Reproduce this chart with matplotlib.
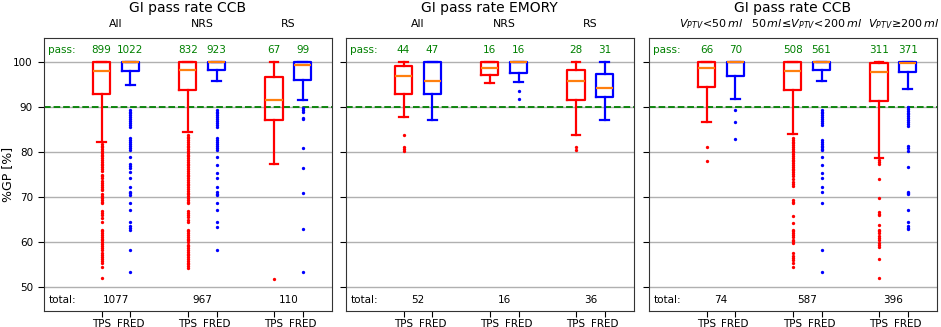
import matplotlib
matplotlib.use("Agg")
import matplotlib.pyplot as plt

# --- data ---
titles = ["GI pass rate CCB", "GI pass rate EMORY", "GI pass rate CCB"]
group_labels = [["All", "NRS", "RS"],
                ["All", "NRS", "RS"],
                [r"$V_{PTV}\!<\!50\,ml$", r"$50\,ml\!\leq\!V_{PTV}\!<\!200\,ml$", r"$V_{PTV}\!\geq\!200\,ml$"]]
tick_labels = ["TPS", "FRED"] * 3
pass_counts = [[899, 1022, 832, 923, 67, 99],
               [44, 47, 16, 16, 28, 31],
               [66, 70, 508, 561, 311, 371]]
totals = [[1077, 967, 110], [52, 16, 36], [74, 587, 396]]

# box statistics, order: TPS, FRED for each group
med = [[97.8, 100.0, 98.2, 100.0, 91.5, 99.3],
       [96.9, 95.6, 98.6, 99.8, 95.6, 94.1],
       [98.5, 100.0, 97.9, 100.0, 97.6, 99.7]]
q1 = [[92.8, 98.0, 93.7, 98.1, 87.0, 96.0],
      [92.9, 92.9, 97.1, 97.4, 91.4, 92.1],
      [94.4, 96.7, 93.7, 98.2, 91.3, 97.7]]
q3 = [[100, 100, 100, 100, 96.5, 100],
      [99.0, 99.9, 100, 100, 98.1, 97.3],
      [100, 100, 100, 100, 99.7, 100]]
whislo = [[82.2, 94.8, 84.3, 95.7, 77.4, 91.5],
          [87.8, 87.0, 95.3, 95.5, 83.8, 87.0],
          [86.7, 91.7, 83.9, 95.6, 78.7, 93.9]]
whishi = [[100] * 6, [100] * 6, [100] * 6]

fliers = [
    [
        [81.8, 81.4, 81.0, 80.6, 80.2, 79.8, 79.4, 79.0, 78.6, 78.2, 77.8, 77.4, 77.0, 76.6, 76.2, 75.8,
         75.0, 74.6, 74.2, 73.6, 73.1, 72.7, 72.3, 71.9, 71.5, 70.6, 70.2, 69.8, 69.4, 69.0, 68.7, 66.9,
         66.5, 66.0, 65.4, 64.5, 62.8, 62.4, 62.0, 61.6, 61.2, 60.8, 60.4, 60.0, 59.6, 59.2, 58.8, 58.4,
         57.6, 57.2, 56.8, 56.2, 55.8, 55.4, 54.5, 52.0],
        [89.3, 88.9, 88.5, 88.1, 87.7, 87.3, 86.9, 86.4, 86.0, 85.6, 83.1, 82.7, 82.3, 81.8, 81.4, 80.9,
         80.5, 78.8, 77.3, 76.9, 76.5, 75.6, 74.2, 72.2, 71.1, 70.8, 70.4, 68.6, 67.1, 64.6, 63.5, 63.1,
         62.8, 58.2, 53.4],
        [83.8, 83.4, 83.0, 82.6, 82.2, 81.8, 81.4, 81.0, 80.6, 80.2, 79.8, 79.4, 79.0, 78.6, 78.2, 77.8,
         77.4, 77.0, 76.6, 76.2, 75.8, 75.4, 75.0, 74.6, 74.2, 73.8, 73.4, 73.0, 72.6, 72.2, 71.8, 71.4,
         71.0, 70.6, 70.2, 69.8, 69.4, 69.0, 68.6, 66.9, 66.5, 66.0, 65.5, 65.0, 64.6, 62.8, 62.4, 62.0,
         61.6, 61.2, 60.8, 60.4, 60.0, 59.5, 59.1, 58.7, 58.3, 57.9, 57.5, 57.1, 56.7, 56.3, 55.9, 55.5,
         55.1, 54.7, 54.3],
        [89.3, 88.9, 88.5, 88.1, 87.7, 87.3, 86.9, 86.4, 86.0, 85.6, 83.0, 82.6, 82.2, 81.8, 81.4, 80.9,
         80.4, 78.8, 77.2, 75.4, 74.2, 72.2, 71.1, 70.7, 70.4, 68.6, 67.1, 64.6, 63.4, 58.2],
        [51.9],
        [89.7, 89.3, 88.9, 87.6, 87.2, 80.9, 76.5, 71.0, 63.0, 53.4],
    ],
    [
        [83.8, 81.0, 80.6, 80.3],
        [],
        [],
        [93.4, 91.8],
        [81.0, 80.5],
        [],
    ],
    [
        [81.1, 78.0],
        [89.3, 86.7, 82.8],
        [83.1, 82.7, 82.3, 81.9, 81.5, 81.1, 80.7, 80.3, 79.9, 79.5, 79.1, 78.7, 78.3, 77.9, 77.5, 77.1,
         76.7, 76.3, 75.9, 75.5, 75.1, 74.6, 73.9, 73.4, 72.9, 72.4, 69.4, 69.0, 68.7, 65.8, 64.3, 62.8,
         62.4, 62.0, 61.6, 61.2, 60.6, 60.2, 59.8, 57.6, 57.0, 56.5, 56.0, 55.4, 54.5],
        [89.3, 88.9, 88.5, 88.1, 87.7, 87.3, 86.9, 86.4, 86.0, 82.6, 82.2, 81.8, 81.4, 81.1, 80.7, 80.5,
         78.8, 77.2, 75.4, 74.2, 72.2, 71.1, 68.6, 58.2, 53.4],
        [78.1, 77.7, 77.3, 74.0, 69.8, 66.7, 66.3, 66.0, 63.9, 62.8, 62.4, 62.0, 61.5, 61.0, 60.6, 59.9,
         59.4, 58.9, 56.2, 52.0],
        [89.9, 89.5, 89.1, 88.7, 88.3, 87.9, 87.5, 87.0, 86.6, 86.2, 85.8, 81.2, 80.8, 80.3, 76.6, 71.1,
         70.8, 70.6, 67.1, 64.6, 63.5, 63.2, 63.0],
    ],
]

positions = [2, 3, 5, 6, 8, 9]
group_centers = [2.5, 5.5, 8.5]
label_x = [[2.5, 5.5, 8.5], [2.5, 5.5, 8.5], [2.18, 5.5, 8.88]]
colors = ["red", "blue"] * 3

fig = plt.figure(figsize=(9.41, 3.27), dpi=100)
lefts = [44, 346, 649]
W, H = 941, 327
fs = 7.5

for p in range(3):
    ax = fig.add_axes([lefts[p] / W, 1 - 311 / H, 287.5 / W, (311 - 38) / H])
    ax.set_xlim(0, 10)
    ax.set_ylim(44.8, 105.2)
    ax.set_yticks([50, 60, 70, 80, 90, 100])
    ax.yaxis.grid(True, color="#b0b0b0", lw=1)
    ax.set_axisbelow(True)
    ax.axhline(90, color="green", ls="--", lw=1.3, zorder=1)

    for i in range(6):
        st = [dict(med=med[p][i], q1=q1[p][i], q3=q3[p][i],
                   whislo=whislo[p][i], whishi=whishi[p][i], fliers=fliers[p][i])]
        c = colors[i]
        ax.bxp(st, positions=[positions[i]], widths=0.6, manage_ticks=False,
               boxprops=dict(color=c, lw=1.6),
               whiskerprops=dict(color=c, lw=1.6),
               capprops=dict(color=c, lw=1.6),
               medianprops=dict(color="#ff7f0e", lw=1.6),
               flierprops=dict(marker="o", markersize=2.4, markerfacecolor=c,
                               markeredgewidth=0, linestyle="none"))
        ax.text(positions[i], 102.6, str(pass_counts[p][i]), color="green",
                ha="center", va="center", fontsize=fs)

    ax.text(0.15, 102.6, "pass:", color="green", ha="left", va="center", fontsize=fs)
    ax.text(0.15, 47.3, "total:", ha="left", va="center", fontsize=fs)
    for g in range(3):
        ax.text(group_centers[g], 47.3, str(totals[p][g]), ha="center", va="center", fontsize=fs)
        ax.text(label_x[p][g], 108.2, group_labels[p][g], ha="center", va="center",
                fontsize=7.8 if p < 2 else 8.0, clip_on=False)
    ax.text(5, 111.9, titles[p], ha="center", va="center", fontsize=10, clip_on=False)

    ax.set_xticks(positions)
    ax.set_xticklabels(tick_labels, fontsize=fs)
    ax.tick_params(axis="x", pad=1.5, length=4)
    ax.tick_params(axis="y", labelsize=fs, length=4.5)
    if p > 0:
        ax.set_yticklabels([])
    for s in ax.spines.values():
        s.set_color("#333333")

fig.text(8 / W, 1 - 174.5 / H, "%GP [%]", rotation=90, ha="center", va="center", fontsize=9)

fig.savefig("out.png", dpi=100)
